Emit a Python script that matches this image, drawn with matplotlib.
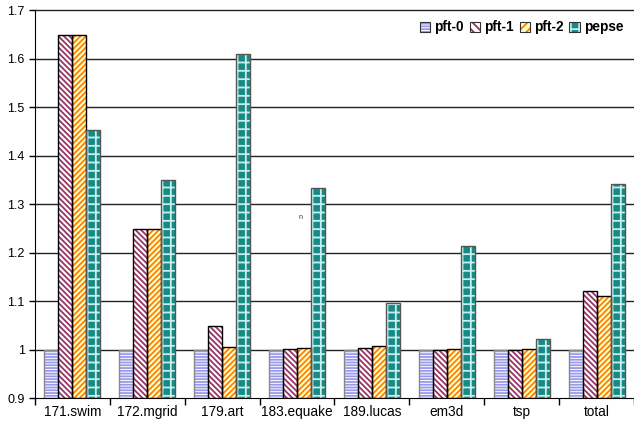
import matplotlib
matplotlib.use("Agg")
import matplotlib.pyplot as plt
import numpy as np
from matplotlib.patches import Patch

plt.rcParams['font.family'] = ['Liberation Sans', 'DejaVu Sans']
plt.rcParams['hatch.linewidth'] = 1.3

categories = ["171.swim", "172.mgrid", "179.art", "183.equake", "189.lucas", "em3d", "tsp", "total"]
series_names = ["pft-0", "pft-1", "pft-2", "pepse"]
pft0 = [1.0, 1.0, 1.0, 1.0, 1.0, 1.0, 1.0, 1.0]
pft1 = [1.648, 1.249, 1.048, 1.002, 1.003, 1.0, 1.0, 1.12]
pft2 = [1.648, 1.249, 1.006, 1.003, 1.008, 1.002, 1.001, 1.11]
pepse = [1.452, 1.35, 1.61, 1.333, 1.096, 1.213, 1.022, 1.341]
yticks = [0.9, 1.0, 1.1, 1.2, 1.3, 1.4, 1.5, 1.6, 1.7]
ytick_labels = ["0.9", "1", "1.1", "1.2", "1.3", "1.4", "1.5", "1.6", "1.7"]

styles = [
    dict(face="#ffffff", hatch="------", hcolor="#9999ee", edge="#888888"),
    dict(face="#ffffff", hatch="\\" * 6, hcolor="#993366", edge="#000000"),
    dict(face="#ffffcc", hatch="/" * 6, hcolor="#ff8000", edge="#000000"),
    dict(face="#168a85", hatch="++", hcolor="#c8eeee", edge="#555555"),
]

fig = plt.figure(figsize=(6.34, 4.23), dpi=100)
ax = fig.add_axes([0.0552, 0.059, 0.9448, 0.917])

x = np.arange(len(categories))
w = 0.1867
data = [pft0, pft1, pft2, pepse]
bottom = 0.9
for i, (vals, st) in enumerate(zip(data, styles)):
    pos = x + (i - 1.5) * w
    h = [v - bottom for v in vals]
    ax.bar(pos, h, w, bottom=bottom, color=st["face"], hatch=st["hatch"],
           edgecolor=st["hcolor"], linewidth=0, zorder=3)
    ax.bar(pos, h, w, bottom=bottom, fill=False, edgecolor=st["edge"],
           linewidth=1.0, zorder=4)

ax.set_ylim(0.9, 1.7)
ax.set_xlim(-0.5, len(categories) - 0.5)
ax.set_yticks(yticks)
ax.set_yticklabels(ytick_labels, fontsize=9)
for y in yticks[1:]:
    ax.axhline(y, color="#222222", linewidth=1.0, zorder=1, clip_on=False)

ax.set_xticks(x)
ax.set_xticklabels(categories, fontsize=9.8)
ax.tick_params(axis='x', length=0, pad=5)
ax.set_xticks(np.arange(len(categories) + 1) - 0.5, minor=True)
ax.tick_params(axis='x', which='minor', length=5, color="#000000", width=1)
ax.tick_params(axis='y', length=4, width=1, color="#000000", direction='out')

for s in ["top", "right"]:
    ax.spines[s].set_visible(False)
ax.spines["left"].set_color("#000000")
ax.spines["bottom"].set_color("#000000")

ax.text(3.02, 1.27, "n", fontsize=5, color="#333333")

handles = [Patch(facecolor=st["face"], hatch=st["hatch"][:4] if st["hatch"][0] in "\\/" else st["hatch"],
                 edgecolor=st["hcolor"], linewidth=0) for st in styles]
leg = ax.legend(handles, series_names, loc="upper right", bbox_to_anchor=(0.998, 0.998),
                ncol=4, frameon=False, prop=dict(weight="bold", size=9.8),
                handlelength=0.75, handleheight=0.8, handletextpad=0.3,
                columnspacing=0.45, borderaxespad=0.3)
fig.canvas.draw()
inv = fig.transFigure.inverted()
for p in leg.get_patches():
    bb = p.get_window_extent()
    (x0, y0), (x1, y1) = inv.transform([[bb.x0, bb.y0], [bb.x1, bb.y1]])
    fig.add_artist(plt.Rectangle((x0, y0), x1 - x0, y1 - y0, fill=False,
                                 edgecolor="#333333", linewidth=0.8, zorder=10))

fig.savefig("out.png", dpi=100)
